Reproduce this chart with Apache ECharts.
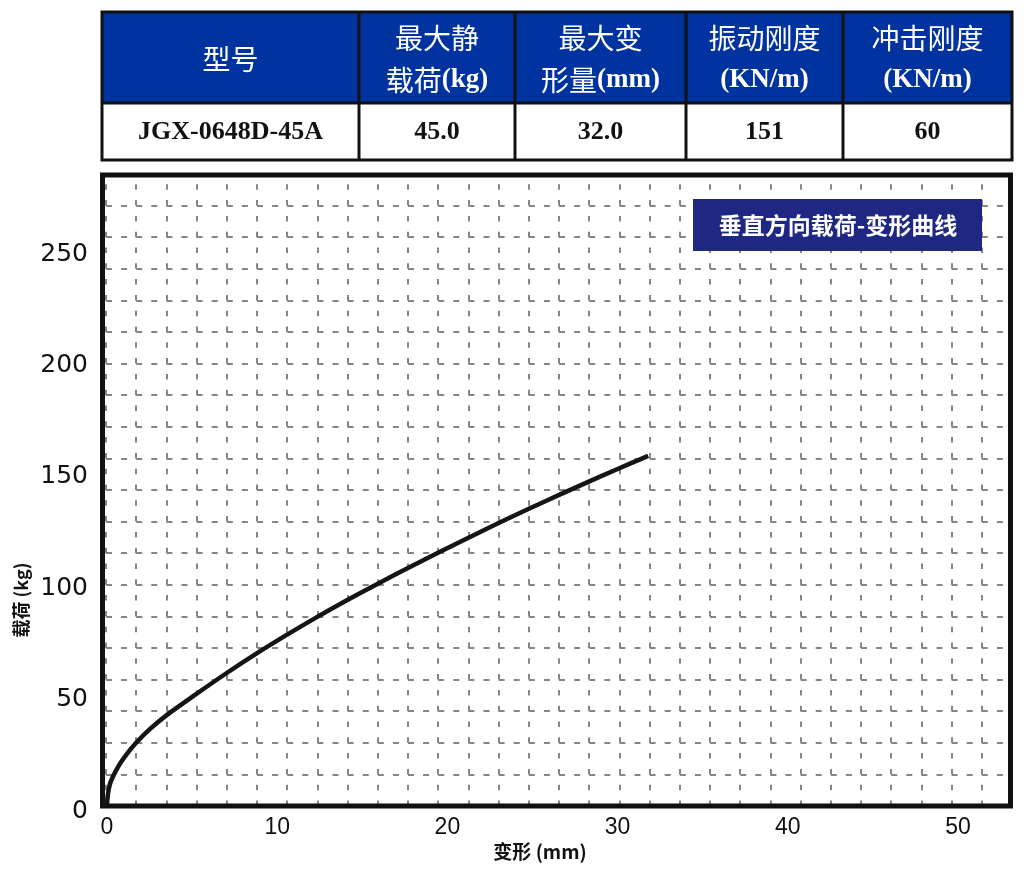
<!DOCTYPE html>
<html>
<head>
<meta charset="utf-8">
<script src="https://cdn.jsdelivr.net/npm/echarts@6/dist/echarts.min.js"></script>
<style>
html,body{margin:0;padding:0;background:#fff;}
#chart{width:1035px;height:870px;}
</style>
</head>
<body>
<div id="chart"></div>
<script>
// ---- data ----
const deformation = [0, 0.05, 0.2, 0.7, 1.15, 1.7, 2.5, 3.47, 5.23, 6.99, 8.75, 10.51, 12.28, 14.07, 15.83, 17.6, 19.45, 21.3, 23.1, 24.85, 26.6, 28.97, 30.9, 31.8];
const load        = [0, 5, 10.5, 18.2, 23.2, 28.3, 34.4, 40.6, 50.2, 59.5, 68.3, 76.6, 84.6, 92.3, 99.5, 106.5, 113.7, 120.7, 127.4, 133.7, 139.8, 147.9, 154.3, 157.2];
const tableHeaderLine1 = ['型号', '最大静', '最大变', '振动刚度', '冲击刚度'];
const tableHeaderLine2 = ['', '载荷(kg)', '形量(mm)', '(KN/m)', '(KN/m)'];
const tableValues = ['JGX-0648D-45A', '45.0', '32.0', '151', '60'];
const chartTitle = '垂直方向载荷-变形曲线';
const xName = '变形 (mm)';
const yName = '载荷 (kg)';

// ---- layout ----
const colEdges = [102, 359, 515, 686, 843, 1012];
const tTop = 12, tMid = 103, tBot = 160;

const graphics = [];
graphics.push({type:'rect', shape:{x:colEdges[0], y:tTop, width:colEdges[5]-colEdges[0], height:tMid-tTop}, style:{fill:'#0033a0'}, z:50});
graphics.push({type:'rect', shape:{x:colEdges[0], y:tMid, width:colEdges[5]-colEdges[0], height:tBot-tMid}, style:{fill:'#ffffff'}, z:50});
const bs = {stroke:'#111', lineWidth:3};
graphics.push({type:'rect', shape:{x:colEdges[0], y:tTop, width:colEdges[5]-colEdges[0], height:tBot-tTop}, style:Object.assign({fill:null}, bs), z:52});
graphics.push({type:'line', shape:{x1:colEdges[0], y1:tMid, x2:colEdges[5], y2:tMid}, style:bs, z:52});
for (let i = 1; i < colEdges.length - 1; i++) {
  graphics.push({type:'line', shape:{x1:colEdges[i], y1:tTop, x2:colEdges[i], y2:tBot}, style:bs, z:52});
}
for (let i = 0; i < tableHeaderLine1.length; i++) {
  const cx = (colEdges[i] + colEdges[i+1]) / 2;
  if (tableHeaderLine2[i] === '') {
    graphics.push({type:'text', x:cx, y:(tTop+tMid)/2+2, z:53, style:{text:tableHeaderLine1[i], fill:'#fff', font:'normal 28px "Noto Sans CJK SC"', align:'center', verticalAlign:'middle'}});
  } else {
    graphics.push({type:'text', x:cx, y:38, z:53, style:{text:tableHeaderLine1[i], fill:'#fff', font:'normal 28px "Noto Sans CJK SC"', align:'center', verticalAlign:'middle'}});
    const l2 = tableHeaderLine2[i];
    const m = l2.match(/^([^\(]*)(\(.*\))$/);
    const cn = m ? m[1] : '';
    const lat = m ? m[2] : l2;
    const rich = cn ? '{c|' + cn + '}{l|' + lat + '}' : '{l|' + lat + '}';
    graphics.push({type:'text', x:cx, y:80, z:53, style:{text:rich, fill:'#fff', align:'center', verticalAlign:'middle',
      rich:{c:{fill:'#fff', font:'normal 28px "Noto Sans CJK SC"'}, l:{fill:'#fff', font:'bold 27px "Liberation Serif"'}}}});
  }
  graphics.push({type:'text', x:cx, y:(tMid+tBot)/2+1, z:53, style:{text:tableValues[i], fill:'#111', font:'bold 26px "Liberation Serif"', align:'center', verticalAlign:'middle'}});
}
// plot frame
graphics.push({type:'rect', shape:{x:102.5, y:175, width:908, height:631}, style:{fill:null, stroke:'#111', lineWidth:5}, z:40});
// title box
graphics.push({type:'rect', shape:{x:693, y:199, width:289, height:52}, style:{fill:'#1e2782'}, z:45});
graphics.push({type:'text', x:838, y:225, z:46, style:{text:chartTitle, fill:'#fff', font:'bold 23px "Noto Sans CJK SC"', align:'center', verticalAlign:'middle'}});
// axis names
graphics.push({type:'text', x:540, y:852, z:46, style:{text:xName, fill:'#111', font:'bold 19px "Noto Sans CJK SC"', align:'center', verticalAlign:'middle'}});
graphics.push({type:'text', x:21, y:600, rotation:Math.PI/2, z:46, style:{text:yName, fill:'#111', font:'bold 18px "Noto Sans CJK SC"', align:'center', verticalAlign:'middle'}});

const chart = echarts.init(document.getElementById('chart'), null, {renderer:'canvas'});
chart.setOption({
  backgroundColor:'#fff',
  animation:false,
  grid:[
    {left:107, top:178, width:902, height:628},
    {left:106, top:174, width:906, height:632}
  ],
  xAxis:[
    {type:'value', gridIndex:0, min:0, max:53, interval:10,
     axisLine:{show:false}, axisTick:{show:false}, splitLine:{show:false},
     axisLabel:{margin:10, color:'#111', fontSize:23, fontFamily:'Liberation Sans', showMaxLabel:false,
       formatter:v => (v % 10 === 0 ? String(v) : '')}},
    {type:'value', gridIndex:1, min:0, max:30, interval:1,
     axisLine:{show:false}, axisTick:{show:false}, axisLabel:{show:false},
     splitLine:{show:true, lineStyle:{color:'#858585', width:2, type:[5.5, 10.3], dashOffset:5.5}}}
  ],
  yAxis:[
    {type:'value', gridIndex:0, min:0, max:282, interval:50,
     axisLine:{show:false}, axisTick:{show:false}, splitLine:{show:false},
     axisLabel:{margin:19, color:'#111', fontSize:25, fontFamily:'DejaVu Sans', showMaxLabel:false,
       verticalAlign:'top', lineHeight:10,
       formatter:v => (v % 50 === 0 ? String(v) : '')}},
    {type:'value', gridIndex:1, min:0, max:20, interval:1,
     axisLine:{show:false}, axisTick:{show:false}, axisLabel:{show:false},
     splitLine:{show:true, lineStyle:{color:'#858585', width:2, type:[6, 9.1], dashOffset:0}}}
  ],
  series:[
    {type:'line', xAxisIndex:0, yAxisIndex:0, smooth:0.3, showSymbol:false, z:10,
     lineStyle:{color:'#151515', width:4.5},
     data: deformation.map((x, i) => [x, load[i]])}
  ],
  graphic: graphics
});
</script>
</body>
</html>
